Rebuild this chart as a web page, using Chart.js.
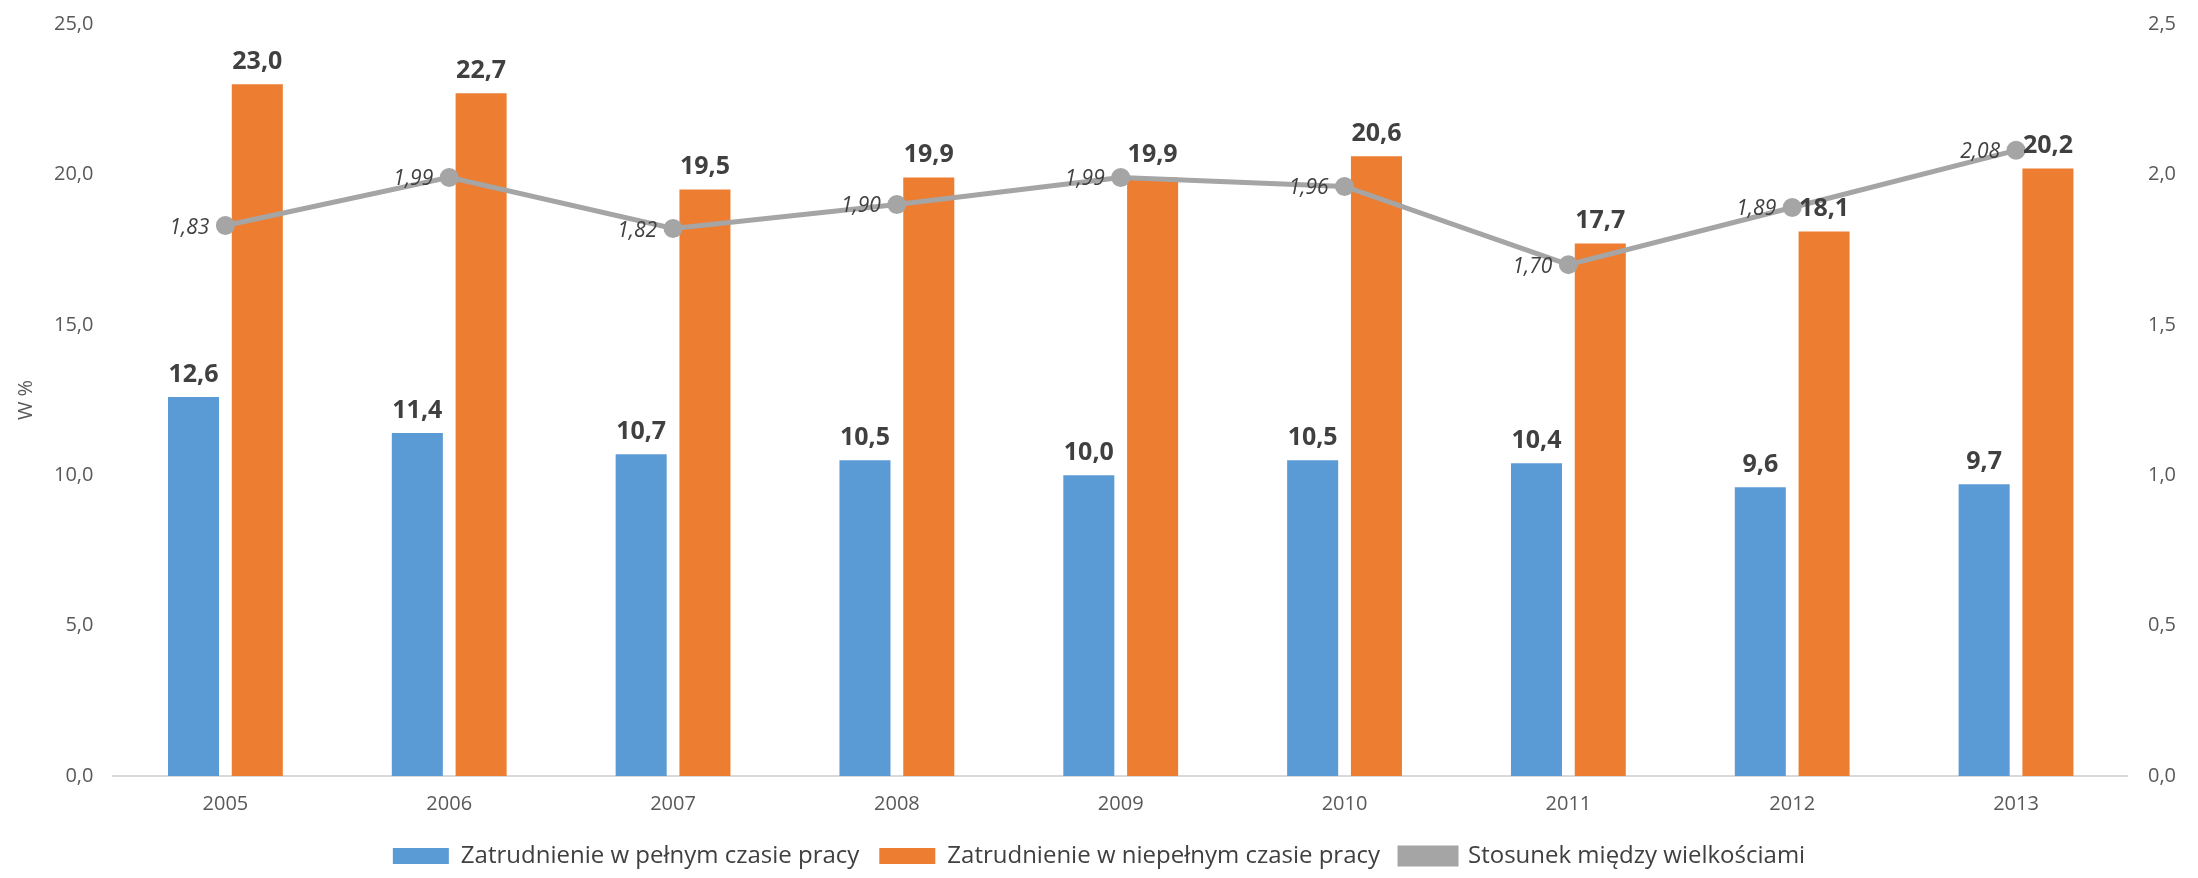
<!DOCTYPE html>
<html><head><meta charset="utf-8">
<script src="https://cdn.jsdelivr.net/npm/chart.js@4.4.0/dist/chart.umd.min.js"></script>
<style>html,body{margin:0;background:#fff}#w{width:2198px;height:878px}</style>
</head><body><div id="w"><canvas id="c"></canvas></div>
<script>
const years = ['2005','2006','2007','2008','2009','2010','2011','2012','2013'];
const fullTime = [12.6, 11.4, 10.7, 10.5, 10.0, 10.5, 10.4, 9.6, 9.7];
const partTime = [23.0, 22.7, 19.5, 19.9, 19.9, 20.6, 17.7, 18.1, 20.2];
const ratio = [1.83, 1.99, 1.82, 1.90, 1.99, 1.96, 1.70, 1.89, 2.08];

const fmt = (v, d) => v.toFixed(d).replace('.', ',');

const labelPlugin = {
    id: 'valueLabels',
    afterDatasetsDraw(chart) {
        const ctx = chart.ctx;
        ctx.save();
        chart.data.datasets.forEach((ds, i) => {
            const meta = chart.getDatasetMeta(i);
            meta.data.forEach((el, j) => {
                if (ds.type === 'line') {
                    ctx.font = 'italic 21px "Open Sans"';
                    ctx.fillStyle = '#404040';
                    ctx.textAlign = 'right';
                    ctx.textBaseline = 'middle';
                    ctx.fillText(fmt(ds.data[j], 2), el.x - 16, el.y + 2);
                } else {
                    ctx.font = 'bold 25px "Open Sans"';
                    ctx.fillStyle = '#404040';
                    ctx.textAlign = 'center';
                    ctx.textBaseline = 'bottom';
                    ctx.fillText(fmt(ds.data[j], 1), el.x, el.y - 10);
                }
            });
        });
        ctx.restore();
    }
};

new Chart(document.getElementById('c'), {
    data: {
        labels: years,
        datasets: [
            {
                type: 'bar',
                label: 'Zatrudnienie w pełnym czasie pracy',
                data: fullTime,
                backgroundColor: '#5B9BD5',
                categoryPercentage: 0.57,
                barPercentage: 0.8,
                order: 1
            },
            {
                type: 'bar',
                label: 'Zatrudnienie w niepełnym czasie pracy',
                data: partTime,
                backgroundColor: '#ED7D31',
                categoryPercentage: 0.57,
                barPercentage: 0.8,
                order: 1
            },
            {
                type: 'line',
                label: 'Stosunek między wielkościami',
                data: ratio,
                yAxisID: 'y2',
                borderColor: '#A5A5A5',
                backgroundColor: '#A5A5A5',
                borderWidth: 5,
                pointRadius: 7,
                pointHoverRadius: 7,
                order: 0
            }
        ]
    },
    options: {
        responsive: true,
        maintainAspectRatio: false,
        animation: false,
        layout: { padding: { top: 10, left: 10, right: 10, bottom: 0 } },
        scales: {
            x: {
                grid: { display: false },
                border: { color: '#D9D9D9', width: 2 },
                ticks: { color: '#595959', font: { size: 20, family: 'Open Sans' }, padding: 8 }
            },
            y: {
                min: 0, max: 25,
                ticks: { stepSize: 5, color: '#595959', font: { size: 20, family: 'Open Sans' }, callback: v => fmt(v, 1), padding: 12 },
                grid: { display: false },
                border: { display: false },
                title: { display: true, text: 'W %', color: '#595959', font: { size: 20, family: 'Open Sans' } }
            },
            y2: {
                position: 'right',
                min: 0, max: 2.5,
                ticks: { stepSize: 0.5, color: '#595959', font: { size: 20, family: 'Open Sans' }, callback: v => fmt(v, 1), padding: 12 },
                grid: { display: false },
                border: { display: false }
            }
        },
        plugins: {
            legend: {
                position: 'bottom',
                labels: {
                    color: '#404040',
                    font: { size: 24, family: 'Open Sans' },
                    boxWidth: 56,
                    boxHeight: 16,
                    padding: 20,
                    sort: (a, b) => a.datasetIndex - b.datasetIndex
                }
            },
            tooltip: { enabled: false }
        }
    },
    plugins: [labelPlugin]
});
</script>
</body></html>
